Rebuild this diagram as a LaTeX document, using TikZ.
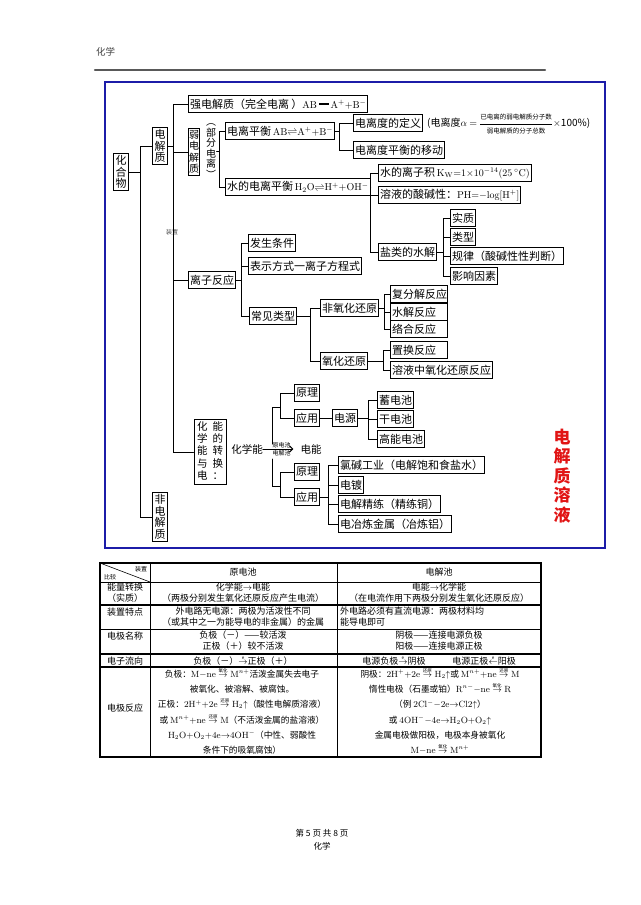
\documentclass[tikz,border=0pt]{standalone}
\usepackage{amsmath}
\usepackage[no-math]{fontspec}
\setmainfont{Noto Sans CJK SC}
\usepackage{tikz}
\usetikzlibrary{arrows.meta}
\usepackage{xcolor}
\definecolor{framebl}{RGB}{28,28,168}
\definecolor{redtxt}{RGB}{225,20,20}
\newcommand{\fsz}[2]{\fontsize{#1}{#2}\selectfont}
\newcommand{\rxn}[1]{\mathrel{\overset{\mbox{\fsz{4.5}{5}#1}}{\rightarrow}}}
\newcommand{\lxn}[1]{\mathrel{\overset{\mbox{\fsz{4.5}{5}#1}}{\leftarrow}}}
\newcommand{\thk}{\,\rule[0.3em]{0.9em}{1.6pt}\,}
\newcommand{\fml}[1]{{\fsz{10}{12}$#1$}}

\begin{document}
\begin{tikzpicture}[x=1pt,y=-1pt,line cap=round,
  bx/.style={draw,line width=1pt,anchor=west,inner xsep=1.5pt,inner ysep=2pt,minimum height=16.5pt,font=\fsz{11}{13}},
  vbx/.style={draw,line width=1pt,text width=11pt,align=center,inner xsep=2pt,inner ysep=2pt,font=\fsz{11}{11.5}},
  lnk/.style={line width=1pt},
  cell/.style={align=center,inner sep=0pt,font=\fsz{9}{11}},
  rx/.style={align=center,inner sep=0pt,font=\fsz{8.7}{15.3}}]
\useasboundingbox (0,0) rectangle (640,905);
% page head
\node[anchor=west,inner sep=0pt,font=\fsz{9.5}{11},text=black!75] (hdr) at (96,52) {化学};
\draw[line width=2.2pt,black!65] (95,70) -- (545,70);
\draw[framebl,line width=2.4pt] (105,82) rectangle (605,548);
% tree
\node[vbx] (hhw) at (121,172) {化\\合\\物};
\node[vbx] (dj) at (160,146) {电\\解\\质};
\node[vbx] (fdj) at (160,517) {非\\电\\解\\质};
\node[bx] (qdj) at (188,104) {强电解质（完全电离 ）\fml{\mathrm{AB}}\thk\fml{\mathrm{A^{+}{+}B^{-}}}};
\node[vbx,text width=10pt,inner xsep=0.8pt,font=\fsz{10}{11.5}] (rdj) at (194,152) {弱\\电\\解\\质};
\node[align=center,text width=10pt,inner sep=0.5pt,font=\fsz{10}{10.5}] (bf) at (211,151) {︵\\部\\分\\电\\离\\︶};
\node[bx] (dlph) at (225,131) {电离平衡\,\fml{\mathrm{AB}{\rightleftharpoons}\mathrm{A^{+}{+}B^{-}}}};
\node[bx] (sdl) at (225,187) {水的电离平衡\,\fml{\mathrm{H_2O}{\rightleftharpoons}\mathrm{H^{+}{+}OH^{-}}}};
\node[bx] (dldy) at (353,123) {电离度的定义};
\node[anchor=west,inner sep=0pt,font=\fsz{10}{12}] (dlfs) at (427,124) {(电离度$\alpha$ $=$ $\dfrac{\mbox{\fsz{6.5}{7}已电离的弱电解质分子数}}{\mbox{\fsz{6.5}{7}弱电解质的分子总数}}$$\times$100\%)};
\node[bx] (dlyd) at (353,150) {电离度平衡的移动};
\node[bx] (kw) at (378,173) {水的离子积\,\fml{\mathrm{K_W}{=}1{\times}10^{-14}(25\,^{\circ}\mathrm{C})}};
\node[bx] (ph) at (378,195) {溶液的酸碱性：\fml{\mathrm{PH{=}{-}log[H^{+}]}}};
\node[bx] (ylsj) at (378,252) {盐类的水解};
\node[bx] (sz) at (450,218) {实质};
\node[bx] (lx) at (450,237) {类型};
\node[bx] (gl) at (450,256) {规律（酸碱性性判断）};
\node[bx] (yx) at (450,276) {影响因素};
\node[bx] (lzfy) at (188,280) {离子反应};
\node[bx] (fstj) at (248,243) {发生条件};
\node[bx] (bsfs) at (248,266) {表示方式一离子方程式};
\node[bx] (cjlx) at (249,316) {常见类型};
\node[bx] (fyh) at (320,308) {非氧化还原};
\node[bx] (yh) at (320,361) {氧化还原};
\node[bx,text width=54pt,align=left] (ffj) at (390,294) {复分解反应};
\node[bx,text width=54pt,align=left] (sj) at (390,312) {水解反应};
\node[bx,text width=54pt,align=left] (lh) at (390,329) {络合反应};
\node[bx,text width=54pt,align=left] (zh) at (390,350) {置换反应};
\node[bx] (rylz) at (390,370) {溶液中氧化还原反应};
\node[draw,line width=1pt,inner xsep=3pt,inner ysep=2pt,font=\fsz{10.5}{11.5}] (hxzh) at (210,452)
  {\begin{tabular}{@{}c@{\hspace{5pt}}c@{}}化&能\\学&的\\能&转\\与&换\\电&：\end{tabular}};
\node[inner sep=0pt,font=\fsz{10.5}{12}] (hxn) at (247,449) {化学能};
\node[inner sep=0pt,font=\fsz{10.5}{12}] (dn) at (311,449) {电能};
\node[bx] (yl1) at (294,393) {原理};
\node[bx] (yy1) at (294,418) {应用};
\node[bx] (ds) at (332,418) {电源};
\node[bx] (xdc) at (377,400) {蓄电池};
\node[bx] (gdc) at (377,419) {干电池};
\node[bx] (gndc) at (377,439) {高能电池};
\node[bx] (yl2) at (294,472) {原理};
\node[bx] (yy2) at (294,497) {应用};
\node[bx] (ljgy) at (338,465) {氯碱工业（电解饱和食盐水）};
\node[bx] (dd) at (338,485) {电镀};
\node[bx] (djjl) at (338,504) {电解精练（精练铜）};
\node[bx] (dyl) at (338,524) {电冶炼金属（冶炼铝）};
\node[text width=17pt,align=center,inner sep=0pt,text=redtxt,font=\fsz{17}{19.5}\bfseries] (djzry) at (562,476) {电\\解\\质\\溶\\液};
\node[inner sep=0pt,font=\fsz{6}{7},text=black!70] (zzlb) at (172,232) {装置};
% bracket columns
\coordinate (xhhw) at (140,0);
\coordinate (xdj) at (173,0);
\coordinate (xbf) at (219,0);
\coordinate (xdlph) at (339,0);
\coordinate (xsdl) at (370,0);
\coordinate (xylsj) at (443,0);
\coordinate (xlzfy) at (241,0);
\coordinate (xcjlx) at (310,0);
\coordinate (xfyh) at (384,0);
\coordinate (xyh) at (383,0);
\coordinate (xds) at (368,0);
\coordinate (xyy2) at (328,0);
\coordinate (fu) at (272,444);
\coordinate (hub1) at (280,407);
\coordinate (fd) at (272,459);
\coordinate (hub2) at (280,486);
% connectors
\draw[lnk] (hhw.east) -- (hhw.east -| xhhw) |- (dj.west);
\draw[lnk] (hhw.east -| xhhw) |- (fdj.west);
\draw[lnk] (dj.east) -- (dj.east -| xdj) |- (qdj.west);
\draw[lnk] (dj.east -| xdj) |- (rdj.west);
\draw[lnk] (dj.east -| xdj) |- (lzfy.west);
\draw[lnk] (dj.east -| xdj) |- (hxzh.west);
\draw[lnk] (bf.east) -- (bf.east -| xbf) |- (dlph.west);
\draw[lnk] (bf.east -| xbf) |- (sdl.west);
\draw[lnk] (dlph.east) -- (dlph.east -| xdlph) |- (dldy.west);
\draw[lnk] (dlph.east -| xdlph) |- (dlyd.west);
\draw[lnk] (sdl.east) -- (sdl.east -| xsdl) |- (kw.west);
\draw[lnk] (sdl.east -| xsdl) |- (ph.west);
\draw[lnk] (sdl.east -| xsdl) |- (ylsj.west);
\draw[lnk] (ylsj.east) -- (ylsj.east -| xylsj) |- (sz.west);
\draw[lnk] (ylsj.east -| xylsj) |- (lx.west);
\draw[lnk] (ylsj.east -| xylsj) |- (gl.west);
\draw[lnk] (ylsj.east -| xylsj) |- (yx.west);
\draw[lnk] (lzfy.east) -- (lzfy.east -| xlzfy) |- (fstj.west);
\draw[lnk] (lzfy.east -| xlzfy) |- (bsfs.west);
\draw[lnk] (lzfy.east -| xlzfy) |- (cjlx.west);
\draw[lnk] (cjlx.east) -- (cjlx.east -| xcjlx) |- (fyh.west);
\draw[lnk] (cjlx.east -| xcjlx) |- (yh.west);
\draw[lnk] (fyh.east) -- (fyh.east -| xfyh) |- (ffj.west);
\draw[lnk] (fyh.east -| xfyh) |- (sj.west);
\draw[lnk] (fyh.east -| xfyh) |- (lh.west);
\draw[lnk] (yh.east) -- (yh.east -| xyh) |- (zh.west);
\draw[lnk] (yh.east -| xyh) |- (rylz.west);
\draw[lnk,-{Straight Barb[length=3pt,width=6pt]},shorten >=7pt] (hxn.east) -- (dn.west)
  node[midway,above,inner sep=1pt,font=\fsz{6}{7}] (ydc) {原电池}
  node[midway,below,inner sep=1pt,font=\fsz{6}{7}] (djc) {电解池};
\draw[lnk] (fu) |- (hub1);
\draw[lnk] (hub1) |- (yl1.west);
\draw[lnk] (hub1) |- (yy1.west);
\draw[lnk] (yy1.east) -- (ds.west);
\draw[lnk] (ds.east) -- (ds.east -| xds) |- (xdc.west);
\draw[lnk] (ds.east -| xds) |- (gdc.west);
\draw[lnk] (ds.east -| xds) |- (gndc.west);
\draw[lnk] (fd) |- (hub2);
\draw[lnk] (hub2) |- (yl2.west);
\draw[lnk] (hub2) |- (yy2.west);
\draw[lnk] (yy2.east) -- (yy2.east -| xyy2) |- (ljgy.west);
\draw[lnk] (yy2.east -| xyy2) |- (dd.west);
\draw[lnk] (yy2.east -| xyy2) |- (djjl.west);
\draw[lnk] (yy2.east -| xyy2) |- (dyl.west);
% comparison table
\draw[line width=1.1pt] (100,563) rectangle (541,757);
\draw[line width=0.8pt] (150,563) -- (150,757);
\draw[line width=0.8pt] (337,563) -- (337,757);
\draw[line width=0.8pt] (100,582) -- (541,582);
\draw[line width=1.3pt] (100,605) -- (541,605);
\draw[line width=0.8pt] (100,629) -- (541,629);
\draw[line width=1.3pt] (100,654) -- (541,654);
\draw[line width=1.3pt] (100,667) -- (541,667);
\draw[line width=0.6pt] (100,563) -- (150,582);
\node[inner sep=0pt,font=\fsz{6}{7}] (bj) at (110,577) {比较};
\node[inner sep=0pt,font=\fsz{6}{7}] (zzh) at (141,569) {装置};
\node[cell] (ydch) at (243,572) {原电池};
\node[cell] (djch) at (439,572) {电解池};
\node[cell] (nlzh) at (125,593) {能量转换\\（实质）};
\node[cell] (nl1) at (243,593) {化学能$\rightarrow$电能\\（两极分别发生氧化还原反应产生电流）};
\node[cell] (nl2) at (439,593) {电能$\rightarrow$化学能\\（在电流作用下两极分别发生氧化还原反应）};
\node[cell] (zztd) at (125,612) {装置特点};
\node[cell] (zz1) at (243,617) {外电路无电源：两极为活泼性不同\\（或其中之一为能导电的非金属）的金属};
\node[cell,anchor=west,align=left] (zz2) at (340,617) {外电路必须有直流电源：两极材料均\\能导电即可};
\node[cell] (djmc) at (125,636) {电极名称};
\node[cell] (mc1) at (243,641) {负极（－）——较活泼\\正极（＋）较不活泼};
\node[cell] (mc2) at (439,641) {阴极——连接电源负极\\阳极——连接电源正极};
\node[cell] (dzlx) at (125,661) {电子流向};
\node[cell] (lx1) at (243,661) {负极（－）$\rxn{e}$正极（＋）};
\node[cell] (lx2) at (439,661) {电源负极$\rxn{e}$阴极\hspace{3em}电源正极$\lxn{e}$阳极};
\node[cell] (djfy) at (125,708) {电极反应};
\node[rx] (fy1) at (242,711) {负极：$\mathrm{M}{-}\mathrm{ne}\rxn{氧化}\mathrm{M}^{n+}$活泼金属失去电子\\
  被氧化、被溶解、被腐蚀。\\
  正极：$2\mathrm{H}^{+}{+}2\mathrm{e}\rxn{还原}\mathrm{H_2}{\uparrow}$（酸性电解质溶液）\\
  或 $\mathrm{M}^{n+}{+}\mathrm{ne}\rxn{还原}\mathrm{M}$（不活泼金属的盐溶液）\\
  $\mathrm{H_2O}{+}\mathrm{O_2}{+}4\mathrm{e}{\rightarrow}4\mathrm{OH}^{-}$（中性、弱酸性\\
  条件下的吸氧腐蚀）};
\node[rx] (fy2) at (440,711) {阴极：$2\mathrm{H}^{+}{+}2\mathrm{e}\rxn{还原}\mathrm{H_2}{\uparrow}$或 $\mathrm{M}^{n+}{+}\mathrm{ne}\rxn{还原}\mathrm{M}$\\
  惰性电极（石墨或铂）$\mathrm{R}^{n-}{-}\mathrm{ne}\rxn{氧化}\mathrm{R}$\\
  （例 $2\mathrm{Cl}^{-}{-}2\mathrm{e}{\rightarrow}\mathrm{Cl2}{\uparrow}$）\\
  或 $4\mathrm{OH}^{-}{-}4\mathrm{e}{\rightarrow}\mathrm{H_2O}{+}\mathrm{O_2}{\uparrow}$\\
  金属电极做阳极，电极本身被氧化\\
  $\mathrm{M}{-}\mathrm{ne}\rxn{氧化}\mathrm{M}^{n+}$};
% page foot
\node[inner sep=0pt,font=\fsz{8.5}{10}] (ym) at (322,833) {第 5 页 共 8 页};
\node[inner sep=0pt,font=\fsz{8.5}{10}] (ft) at (322,846) {化学};
\end{tikzpicture}
\end{document}
